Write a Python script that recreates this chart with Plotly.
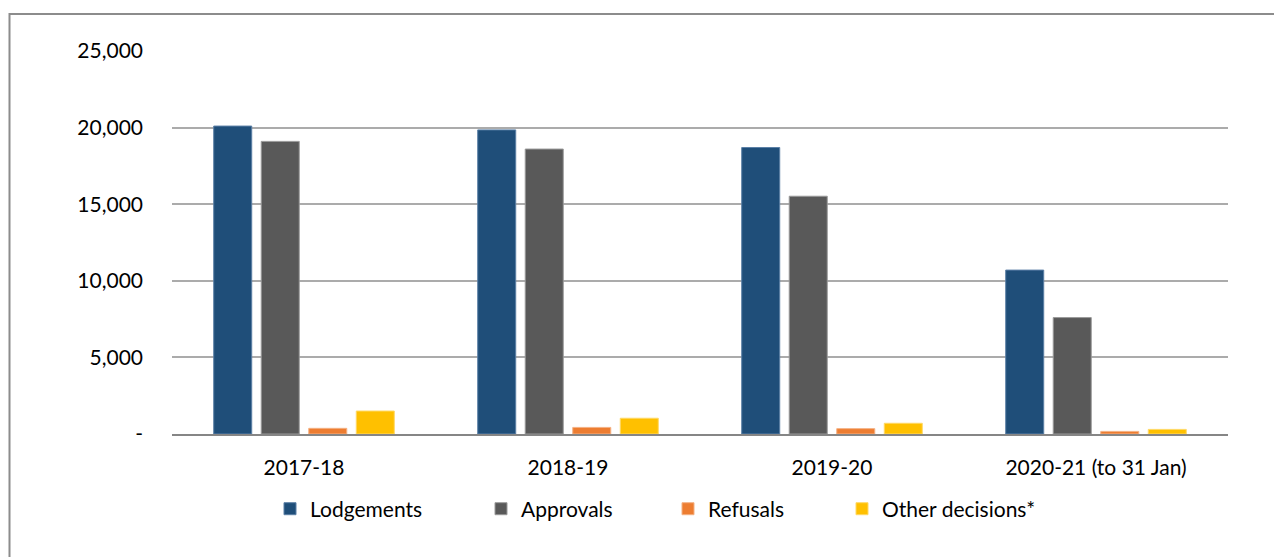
import plotly.graph_objects as go

years = ["2017-18", "2018-19", "2019-20", "2020-21 (to 31 Jan)"]
lodgements = [20100, 19850, 18700, 10700]
approvals = [19100, 18600, 15520, 7600]
refusals = [370, 430, 350, 170]
other_decisions = [1500, 1030, 700, 300]

series = [
    ("Lodgements", lodgements, "#1F4E79", "#5B7FA6"),
    ("Approvals", approvals, "#595959", "#9A9A9A"),
    ("Refusals", refusals, "#ED7D31", "#F4B183"),
    ("Other decisions*", other_decisions, "#FFC000", "#FFD966"),
]

FONT = "Lato"
# plot area in pixels: x 172..1228, y 51..434
PL, PW = 172, 1056
legend_px = [270, 481, 668, 842]  # left edge of each legend entry

fig = go.Figure()
for i, (name, vals, col, edge) in enumerate(series):
    leg = "legend" if i == 0 else "legend%d" % (i + 1)
    fig.add_trace(go.Bar(x=years, y=vals, name=name, legend=leg,
                         marker=dict(color=col, line=dict(color=edge, width=1))))

layout_legends = {}
for i, px in enumerate(legend_px):
    key = "legend" if i == 0 else "legend%d" % (i + 1)
    layout_legends[key] = dict(orientation="h", x=(px - PL) / PW, xanchor="left",
                               y=-0.196, yanchor="middle", font=dict(size=21),
                               itemwidth=30, bgcolor="rgba(0,0,0,0)")

fig.update_layout(
    width=1274, height=557,
    margin=dict(l=172, r=46, t=51, b=123),
    paper_bgcolor="white", plot_bgcolor="white",
    font=dict(family=FONT, size=21, color="#000000"),
    barmode="group", bargap=0.28, bargroupgap=0.2,
    showlegend=True,
    **layout_legends,
)

fig.update_xaxes(showgrid=False, showline=True, linecolor="#868686", linewidth=2,
                 ticks="", ticklabelstandoff=14, tickfont=dict(size=21))
fig.update_yaxes(range=[0, 25000], tickvals=[0, 5000, 10000, 15000, 20000, 25000],
                 ticktext=["-", "5,000", "10,000", "15,000", "20,000", "25,000"],
                 showgrid=True, gridcolor="#ABABAB", gridwidth=2, zeroline=False,
                 showline=False, ticks="", ticklabelstandoff=28, tickfont=dict(size=21))

# outer chart-frame border (cut off at right and bottom in the reference)
fig.add_shape(type="rect", xref="paper", yref="paper",
              x0=(9.5 - 172) / 1056, x1=1.2, y0=-0.6, y1=(434 - 14) / 383,
              line=dict(color="#8C8C8C", width=2), fillcolor="rgba(0,0,0,0)", layer="below")

fig.write_html("out.html", config={"displayModeBar": False},
               post_script="document.body.style.margin='0';document.body.style.overflow='hidden';")
